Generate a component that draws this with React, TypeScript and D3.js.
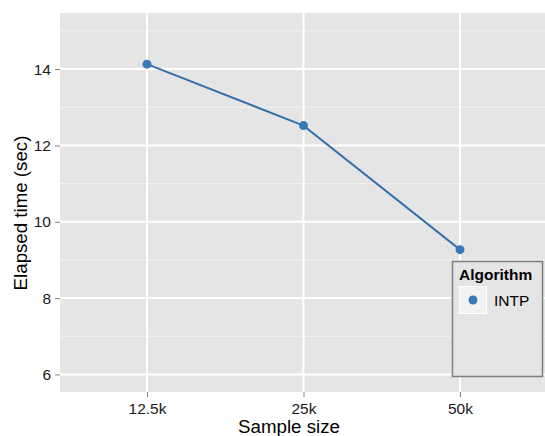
import React, { useEffect, useRef } from 'react';
import * as d3 from 'd3';

const categories = ['12.5k', '25k', '50k'];
const elapsed = [14.13, 12.52, 9.27];
const yTicks = [6, 8, 10, 12, 14];
const yMinor = [7, 9, 11, 13, 15];
const seriesName = 'INTP';

const App: React.FC = () => {
  const svgRef = useRef<SVGSVGElement>(null);

  useEffect(() => {
    if (!svgRef.current) return;
    const panel = { left: 60, top: 13, right: 547, bottom: 392 };
    const blue = '#3978b5';
    const font = "'Liberation Sans', Arial, sans-serif";

    const svg = d3.select(svgRef.current);
    svg.selectAll('*').remove();

    const x = d3.scalePoint<string>()
      .domain(categories)
      .range([panel.left, panel.right])
      .padding(0.556);

    const y = d3.scaleLinear()
      .domain([5.54, 15.47])
      .range([panel.bottom, panel.top]);

    // Panel background
    svg.append('rect')
      .attr('x', panel.left)
      .attr('y', panel.top)
      .attr('width', panel.right - panel.left)
      .attr('height', panel.bottom - panel.top)
      .attr('fill', '#e5e5e5');

    // Minor grid
    svg.append('g').selectAll('line')
      .data(yMinor)
      .enter()
      .append('line')
      .attr('x1', panel.left)
      .attr('x2', panel.right)
      .attr('y1', d => y(d))
      .attr('y2', d => y(d))
      .attr('stroke', '#f2f2f2')
      .attr('stroke-width', 1);

    // Major grid
    svg.append('g').selectAll('line')
      .data(yTicks)
      .enter()
      .append('line')
      .attr('x1', panel.left)
      .attr('x2', panel.right)
      .attr('y1', d => y(d))
      .attr('y2', d => y(d))
      .attr('stroke', '#ffffff')
      .attr('stroke-width', 2);

    svg.append('g').selectAll('line')
      .data(categories)
      .enter()
      .append('line')
      .attr('x1', d => x(d) || 0)
      .attr('x2', d => x(d) || 0)
      .attr('y1', panel.top)
      .attr('y2', panel.bottom)
      .attr('stroke', '#ffffff')
      .attr('stroke-width', 2);

    // Axes
    const yAxis = svg.append('g')
      .attr('transform', `translate(${panel.left},0)`)
      .call(d3.axisLeft(y).tickValues(yTicks).tickSize(5).tickPadding(4));
    yAxis.select('.domain').remove();
    yAxis.selectAll('.tick line').attr('stroke', '#7f7f7f');
    yAxis.selectAll('.tick text')
      .style('font-family', font)
      .style('font-size', '15.5px')
      .attr('fill', '#1a1a1a');

    const xAxis = svg.append('g')
      .attr('transform', `translate(0,${panel.bottom})`)
      .call(d3.axisBottom(x).tickSize(5).tickPadding(6));
    xAxis.select('.domain').remove();
    xAxis.selectAll('.tick line').attr('stroke', '#7f7f7f');
    xAxis.selectAll('.tick text')
      .style('font-family', font)
      .style('font-size', '15.5px')
      .attr('fill', '#1a1a1a');

    // Line and points
    const pts = categories.map((c, i) => ({ c, v: elapsed[i] }));
    const line = d3.line<{ c: string; v: number }>()
      .x(d => x(d.c) || 0)
      .y(d => y(d.v));

    svg.append('path')
      .datum(pts)
      .attr('d', line)
      .attr('fill', 'none')
      .attr('stroke', blue)
      .attr('stroke-width', 2);
    svg.append('path')
      .datum(pts)
      .attr('d', line)
      .attr('fill', 'none')
      .attr('stroke', '#2f6594')
      .attr('stroke-width', 0.6);

    svg.append('g').selectAll('circle')
      .data(pts)
      .enter()
      .append('circle')
      .attr('cx', d => x(d.c) || 0)
      .attr('cy', d => y(d.v))
      .attr('r', 4.5)
      .attr('fill', blue);

    // Axis titles
    svg.append('text')
      .attr('x', 289)
      .attr('y', 433)
      .attr('text-anchor', 'middle')
      .style('font-family', font)
      .style('font-size', '18.7px')
      .attr('fill', '#000')
      .text('Sample size');

    svg.append('text')
      .attr('transform', 'rotate(-90)')
      .attr('x', -213)
      .attr('y', 27)
      .attr('text-anchor', 'middle')
      .style('font-family', font)
      .style('font-size', '18.7px')
      .attr('fill', '#000')
      .text('Elapsed time (sec)');

    // Legend
    const lg = svg.append('g').attr('transform', 'translate(452,261)');
    lg.append('rect')
      .attr('x', 0.5)
      .attr('y', 0.5)
      .attr('width', 90)
      .attr('height', 115)
      .attr('fill', '#e5e5e5')
      .attr('stroke', '#7f7f7f')
      .attr('stroke-width', 1.5);
    lg.append('text')
      .attr('x', 7)
      .attr('y', 19)
      .style('font-family', font)
      .style('font-size', '15.5px')
      .style('font-weight', 'bold')
      .attr('fill', '#000')
      .text('Algorithm');
    lg.append('rect')
      .attr('x', 7.5)
      .attr('y', 25.5)
      .attr('width', 27)
      .attr('height', 27)
      .attr('fill', '#f2f2f2')
      .attr('stroke', '#ffffff')
      .attr('stroke-width', 1);
    lg.append('circle')
      .attr('cx', 21)
      .attr('cy', 39)
      .attr('r', 4.5)
      .attr('fill', blue);
    lg.append('text')
      .attr('x', 42)
      .attr('y', 45)
      .style('font-family', font)
      .style('font-size', '15.5px')
      .attr('fill', '#000')
      .text(seriesName);
  }, []);

  return (
    <svg
      ref={svgRef}
      width={545}
      height={436}
      style={{ position: 'absolute', left: 0, top: 0, background: '#fff' }}
    />
  );
};

export default App;
